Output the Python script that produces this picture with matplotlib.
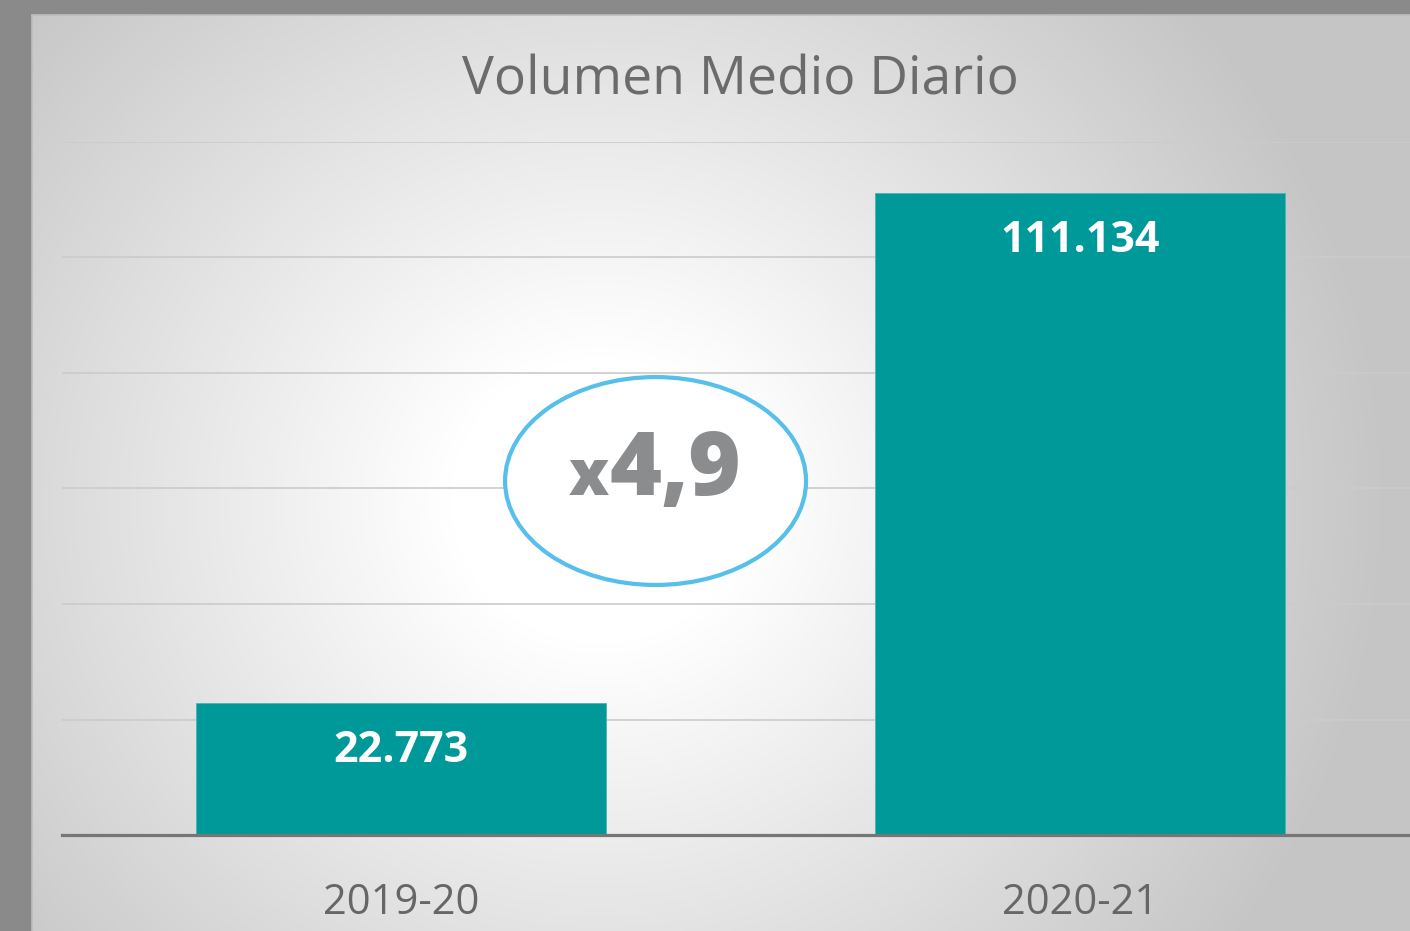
import numpy as np
import matplotlib
matplotlib.use("Agg")
import matplotlib.pyplot as plt
from matplotlib.patches import Ellipse

plt.rcParams['font.family'] = ['Open Sans', 'DejaVu Sans']

# data
seasons = ["2019-20", "2020-21"]
volumes = [22773, 111134]
title = "Volumen Medio Diario"

bar_color = "#009999"
grey_text = "#666666"

fig = plt.figure(figsize=(14.1, 9.31), dpi=100)
fig.patch.set_facecolor("#8a8a8a")

# panel with radial gradient background
W, H = 1410, 931
bg = fig.add_axes([32 / W, 0, 1 - 32 / W, (H - 15) / H])
yy, xx = np.mgrid[15:H, 32:W]
r = np.hypot(xx - 600, (yy - 500) * 1.05)
shade = 255 - 58 * np.clip((r - 150) / 640, 0, 1)
img = np.dstack([shade, shade, shade]) / 255.0
bg.imshow(img, aspect="auto", extent=[0, 1, 0, 1], interpolation="bilinear")
bg.set_xlim(0, 1)
bg.set_ylim(0, 1)
for s in ["left", "top"]:
    bg.spines[s].set_color("#bdbdbd")
    bg.spines[s].set_linewidth(1.2)
for s in ["right", "bottom"]:
    bg.spines[s].set_visible(False)
bg.set_xticks([])
bg.set_yticks([])

# main chart
ax = fig.add_axes([62 / W, (H - 835) / H, 1357 / W, 693 / H])
ax.patch.set_alpha(0)
x = np.arange(len(seasons))
bars = ax.bar(x, volumes, width=0.604, color=bar_color, edgecolor="#4fb3b3",
              linewidth=0.6, zorder=3)
ax.set_xlim(-0.5, 1.5)
ax.set_ylim(0, 120000)
ax.set_yticks(np.arange(0, 120001, 20000))
ax.yaxis.grid(True, color="#cbcbcb", linewidth=1.2, zorder=0)
ax.set_axisbelow(True)
ax.set_yticklabels([])
ax.tick_params(axis="y", length=0)
ax.set_xticks(x)
ax.set_xticklabels(seasons, fontsize=30, color=grey_text)
ax.tick_params(axis="x", length=0, pad=34)
for s in ["left", "right", "top"]:
    ax.spines[s].set_visible(False)
ax.spines["bottom"].set_color("#767676")
ax.spines["bottom"].set_linewidth(2.3)
ax.spines["bottom"].set_zorder(4)

for b, v in zip(bars, volumes):
    ax.annotate(f"{v:,}".replace(",", "."), (b.get_x() + b.get_width() / 2, v),
                xytext=(0, -34), textcoords="offset points", ha="center",
                va="center", fontsize=31, fontweight="bold", color="white",
                zorder=5)

ax.set_title(title, fontsize=38.5, color="#6b6b6b", pad=34)

# growth callout
ratio = volumes[1] / volumes[0]
ell = Ellipse((0.4374, 0.5108), 0.2218, 0.300, transform=ax.transAxes,
              facecolor="white", edgecolor="#56bfea", linewidth=3.0, zorder=4)
ax.add_patch(ell)
ax.text(0.4031, 0.4906, "x", transform=ax.transAxes, ha="right", va="baseline",
        fontsize=46, fontweight="heavy", color="#8a8c8e", zorder=5)
ax.text(0.4031, 0.4906, f"{ratio:.1f}".replace(".", ","), transform=ax.transAxes,
        ha="left", va="baseline", fontsize=64, fontweight="heavy",
        color="#8a8c8e", zorder=5)

fig.savefig("out.png", dpi=100, facecolor=fig.get_facecolor())
